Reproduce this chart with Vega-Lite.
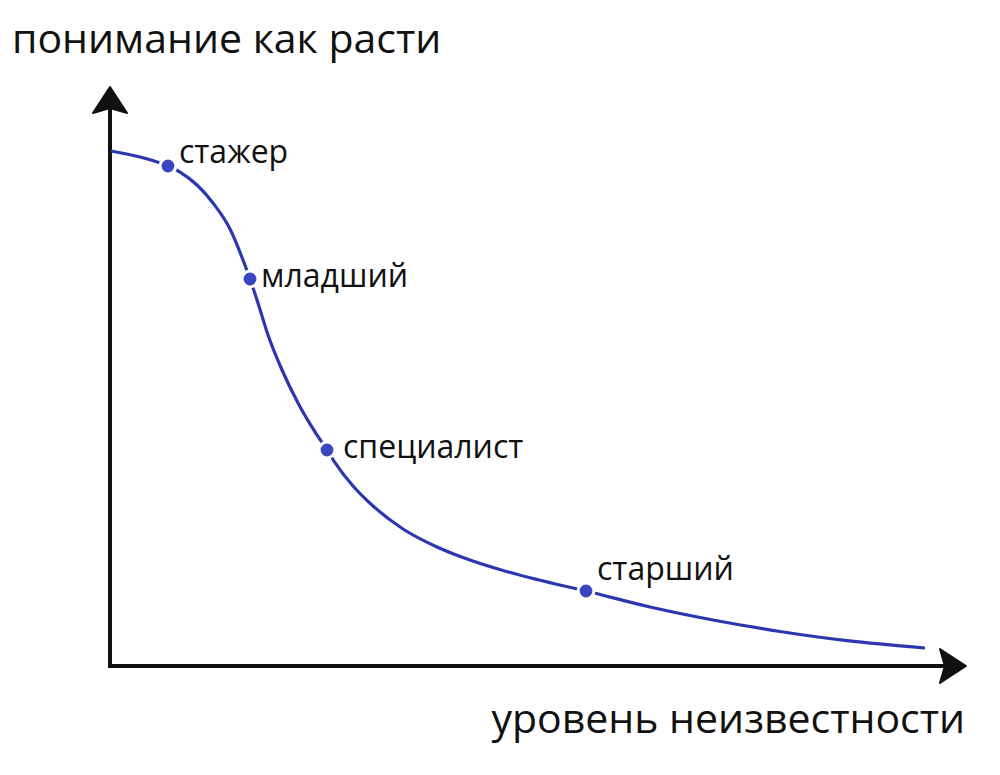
{
  "$schema": "https://vega.github.io/schema/vega-lite/v6.json",
  "width": 1000,
  "height": 775,
  "padding": 0,
  "autosize": {"type": "fit", "contains": "padding"},
  "background": "white",
  "config": {"view": {"stroke": null}},
  "datasets": {
    "curve": [
      {"x": 0.12, "y": 89.57}, {"x": 3.53, "y": 88.52}, {"x": 6.82, "y": 86.96},
      {"x": 8.24, "y": 85.91}, {"x": 10.24, "y": 83.65}, {"x": 12.12, "y": 80.52},
      {"x": 14.12, "y": 76.0}, {"x": 15.65, "y": 70.61}, {"x": 16.47, "y": 67.3},
      {"x": 17.41, "y": 63.13}, {"x": 18.59, "y": 57.57}, {"x": 20.24, "y": 51.48},
      {"x": 22.12, "y": 45.74}, {"x": 24.12, "y": 40.7}, {"x": 25.53, "y": 37.57},
      {"x": 26.35, "y": 35.65}, {"x": 28.59, "y": 31.3}, {"x": 30.94, "y": 27.83},
      {"x": 34.47, "y": 23.83}, {"x": 38.47, "y": 20.7}, {"x": 42.35, "y": 18.43},
      {"x": 46.24, "y": 16.61}, {"x": 50.24, "y": 15.04}, {"x": 56.0, "y": 13.04},
      {"x": 63.53, "y": 10.26}, {"x": 70.94, "y": 8.0}, {"x": 78.82, "y": 6.0},
      {"x": 86.71, "y": 4.4}, {"x": 95.88, "y": 3.13}
    ],
    "levels": [
      {"x": 6.82, "y": 86.96, "label": "стажер"},
      {"x": 16.47, "y": 67.3, "label": "младший"},
      {"x": 25.53, "y": 37.57, "label": "специалист"},
      {"x": 56.0, "y": 13.04, "label": "старший"}
    ],
    "axes": [
      {"x": 0, "y": 0, "x2": 0, "y2": 97.2},
      {"x": 0, "y": 0, "x2": 97.9, "y2": 0}
    ],
    "arrows": [
      {"x": 0, "y": 97.74, "dir": "up"},
      {"x": 98.7, "y": 0, "dir": "right"}
    ],
    "titles": [
      {"x": -11.53, "y": 106.6, "text": "понимание как расти", "which": "y"},
      {"x": 100.6, "y": -11.65, "text": "уровень неизвестности", "which": "x"}
    ]
  },
  "layer": [
    {
      "data": {"name": "axes"},
      "mark": {"type": "rule", "color": "#111111", "strokeWidth": 4, "strokeCap": "square"},
      "encoding": {
        "x": {"field": "x", "type": "quantitative", "scale": {"domain": [-12.941, 104.706], "nice": false, "zero": false}, "axis": null},
        "y": {"field": "y", "type": "quantitative", "scale": {"domain": [-18.957, 115.826], "nice": false, "zero": false}, "axis": null},
        "x2": {"field": "x2"},
        "y2": {"field": "y2"}
      }
    },
    {
      "data": {"name": "arrows"},
      "mark": {"type": "point", "filled": true, "color": "#111111", "stroke": "#111111", "strokeWidth": 2, "strokeJoin": "round", "opacity": 1, "size": 1156},
      "encoding": {
        "x": {"field": "x", "type": "quantitative"},
        "y": {"field": "y", "type": "quantitative"},
        "shape": {"field": "dir", "type": "nominal", "legend": null,
          "scale": {"domain": ["up", "right"], "range": ["M0,-1L1,0.53L0,0.235L-1,0.53Z", "M1,0L-0.53,-1L-0.235,0L-0.53,1Z"]}}
      }
    },
    {
      "data": {"name": "curve"},
      "mark": {"type": "line", "interpolate": "monotone", "color": "#2b37ae", "strokeWidth": 3.2},
      "encoding": {
        "x": {"field": "x", "type": "quantitative"},
        "y": {"field": "y", "type": "quantitative"}
      }
    },
    {
      "data": {"name": "levels"},
      "mark": {"type": "point", "filled": true, "shape": "circle", "size": 250, "color": "#3a46c0", "stroke": "white", "strokeWidth": 3, "opacity": 1},
      "encoding": {
        "x": {"field": "x", "type": "quantitative"},
        "y": {"field": "y", "type": "quantitative"}
      }
    },
    {
      "data": {"name": "levels"},
      "transform": [{"filter": "datum.label === 'стажер'"}],
      "mark": {"type": "text", "align": "left", "baseline": "alphabetic", "font": "Open Sans", "fontSize": 32, "color": "#111111", "dx": 11, "dy": -3},
      "encoding": {"x": {"field": "x", "type": "quantitative"}, "y": {"field": "y", "type": "quantitative"}, "text": {"field": "label"}}
    },
    {
      "data": {"name": "levels"},
      "transform": [{"filter": "datum.label === 'младший'"}],
      "mark": {"type": "text", "align": "left", "baseline": "alphabetic", "font": "Open Sans", "fontSize": 32, "color": "#111111", "dx": 11, "dy": 8},
      "encoding": {"x": {"field": "x", "type": "quantitative"}, "y": {"field": "y", "type": "quantitative"}, "text": {"field": "label"}}
    },
    {
      "data": {"name": "levels"},
      "transform": [{"filter": "datum.label === 'специалист'"}],
      "mark": {"type": "text", "align": "left", "baseline": "alphabetic", "font": "Open Sans", "fontSize": 32, "color": "#111111", "dx": 16, "dy": 8},
      "encoding": {"x": {"field": "x", "type": "quantitative"}, "y": {"field": "y", "type": "quantitative"}, "text": {"field": "label"}}
    },
    {
      "data": {"name": "levels"},
      "transform": [{"filter": "datum.label === 'старший'"}],
      "mark": {"type": "text", "align": "left", "baseline": "alphabetic", "font": "Open Sans", "fontSize": 32, "color": "#111111", "dx": 11, "dy": -11},
      "encoding": {"x": {"field": "x", "type": "quantitative"}, "y": {"field": "y", "type": "quantitative"}, "text": {"field": "label"}}
    },
    {
      "data": {"name": "titles"},
      "transform": [{"filter": "datum.which === 'y'"}],
      "mark": {"type": "text", "align": "left", "baseline": "alphabetic", "font": "Open Sans", "fontSize": 41, "color": "#111111"},
      "encoding": {"x": {"field": "x", "type": "quantitative"}, "y": {"field": "y", "type": "quantitative"}, "text": {"field": "text"}}
    },
    {
      "data": {"name": "titles"},
      "transform": [{"filter": "datum.which === 'x'"}],
      "mark": {"type": "text", "align": "right", "baseline": "alphabetic", "font": "Open Sans", "fontSize": 41, "color": "#111111"},
      "encoding": {"x": {"field": "x", "type": "quantitative"}, "y": {"field": "y", "type": "quantitative"}, "text": {"field": "text"}}
    }
  ]
}
